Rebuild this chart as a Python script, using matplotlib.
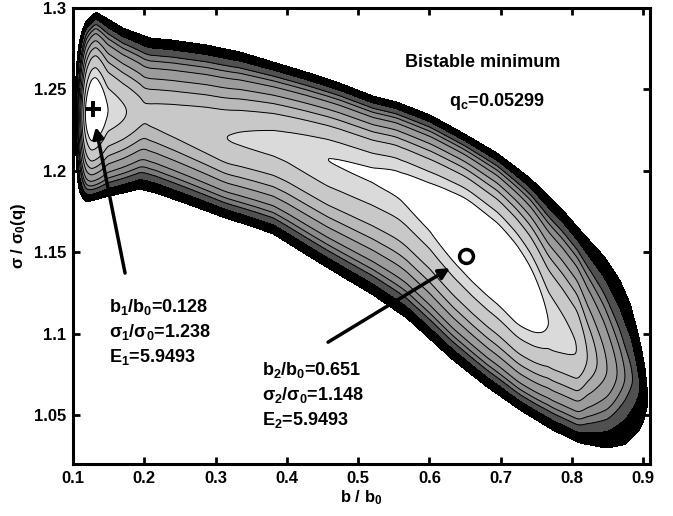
import numpy as np
import matplotlib.pyplot as plt

plt.rcParams['font.family'] = ['Liberation Sans', 'DejaVu Sans']
plt.rcParams['font.weight'] = 'bold'
plt.rcParams['mathtext.fontset'] = 'custom'
plt.rcParams['mathtext.rm'] = 'Liberation Sans:bold'
plt.rcParams['mathtext.bf'] = 'Liberation Sans:bold'
plt.rcParams['mathtext.it'] = 'Liberation Sans'

# outer edge of the energy valley (black band)
upper_b = [0.1025, 0.104, 0.107, 0.112, 0.118, 0.132, 0.146, 0.170, 0.208, 0.240, 0.287,
           0.334, 0.381, 0.427, 0.474, 0.521, 0.554, 0.601, 0.647, 0.695, 0.741, 0.787,
           0.815, 0.845, 0.867, 0.882, 0.895, 0.902, 0.905, 0.906]
upper_s = [1.235, 1.262, 1.275, 1.285, 1.292, 1.2975, 1.294, 1.2877, 1.2816, 1.2803, 1.2773,
           1.2730, 1.2668, 1.2607, 1.2539, 1.2459, 1.2423, 1.2343, 1.2232, 1.2109, 1.1956, 1.1759,
           1.1618, 1.1475, 1.1329, 1.118, 1.096, 1.080, 1.0715, 1.0574]
lower_b = [0.1025, 0.104, 0.107, 0.112, 0.118, 0.146, 0.194, 0.216, 0.264, 0.310, 0.357,
           0.381, 0.428, 0.474, 0.521, 0.568, 0.633, 0.681, 0.727, 0.773, 0.811, 0.849,
           0.875, 0.895, 0.902, 0.906]
lower_s = [1.235, 1.205, 1.190, 1.184, 1.1808, 1.1839, 1.1888, 1.1864, 1.1790, 1.1716, 1.1649,
           1.1612, 1.1483, 1.1360, 1.1237, 1.1096, 1.0838, 1.0672, 1.0531, 1.0408, 1.0328, 1.0297,
           1.032, 1.0408, 1.0482, 1.0574]

# contour positions across the band (fraction of half-width, read at the left minimum)
edge_u = [0.337, 0.439, 0.561, 0.643, 0.714, 0.786, 0.837, 0.878, 0.930]

# height of the valley floor along b, same units as edge_u
floor_b = [0.1035, 0.117, 0.128, 0.148, 0.175, 0.200, 0.250, 0.316, 0.400, 0.457, 0.520,
           0.560, 0.600, 0.630, 0.660, 0.690, 0.720, 0.745, 0.766, 0.807, 0.821, 0.835,
           0.849, 0.863, 0.874, 0.885, 0.895, 0.906]
floor_u = [1.0, 0.337, 0.0, 0.337, 0.439, 0.54, 0.50, 0.439, 0.39, 0.337, 0.325,
           0.30, 0.24, 0.15, 0.05, 0.0, 0.06, 0.20, 0.337, 0.439, 0.561, 0.643,
           0.714, 0.786, 0.837, 0.878, 0.930, 1.0]

# vertical offset of the valley bottom inside the band (-1 lower edge, +1 upper edge)
shift_b = [0.100, 0.128, 0.200, 0.316, 0.400, 0.457, 0.550, 0.650, 0.700, 0.766, 0.810, 0.860, 0.906]
shift_t = [0.0, -0.04, 0.0, -0.05, 0.10, 0.15, 0.25, 0.20, 0.12, -0.10, -0.15, -0.15, 0.0]

shades = ['#ffffff', '#dadada', '#c8c8c8', '#b9b9b9', '#aaaaaa', '#9b9b9b',
          '#8c8c8c', '#7b7b7b', '#505050', '#000000']

minima_b = [0.128, 0.651]
minima_s = [1.238, 1.148]
labels1 = ['b$_1$/b$_0$=0.128', r'$\sigma_1/\sigma_0$=1.238', 'E$_1$=5.9493']
labels2 = ['b$_2$/b$_0$=0.651', r'$\sigma_2/\sigma_0$=1.148', 'E$_2$=5.9493']


def profile(u, e=0.2):
    # quadratic at the bottom, straight walls further out
    u = np.asarray(u, dtype=float)
    return (np.sqrt(u ** 2 + e ** 2) - e) / (np.sqrt(1 + e ** 2) - e)


def smooth(y, n):
    pad = np.pad(y, n, mode='edge')
    return np.convolve(pad, np.ones(n) / n, mode='same')[n:-n]


bgrid = np.linspace(0.1, 0.91, 1400)
sgrid = np.linspace(1.02, 1.30, 1000)
up = np.interp(bgrid, upper_b, upper_s, left=np.nan, right=np.nan)
lo = np.interp(bgrid, lower_b, lower_s, left=np.nan, right=np.nan)
ok = np.isfinite(up)
up[ok] = smooth(up[ok], 9)
lo[ok] = smooth(lo[ok], 9)
g = profile(smooth(np.interp(bgrid, floor_b, floor_u), 11))
m = smooth(np.interp(bgrid, shift_b, shift_t), 31)
c = (up + lo) / 2
h = (up - lo) / 2

B, S = np.meshgrid(bgrid, sgrid)
with np.errstate(invalid='ignore', divide='ignore'):
    t = (S - c) / h
    u = np.where(t >= m, (t - m) / (1 - m), (m - t) / (1 + m))
    phi = g + (1 - g) * profile(u)
phi = np.where(np.isfinite(phi) & (h > 0), phi, 5.0)

levels = [-1.0] + list(profile(edge_u)) + [1.0]

fig = plt.figure(figsize=(6.73, 5.16), dpi=100)
ax = fig.add_axes([0.1085, 0.1008, 0.8573, 0.8837])

ax.contourf(B, S, phi, levels=levels, colors=shades)
ax.contour(B, S, phi, levels=levels[1:9], colors='k', linewidths=0.7)

ax.plot(minima_b[0], minima_s[0], marker='+', color='k', ms=12, mew=2.8)
ax.plot(minima_b[1], minima_s[1], marker='o', mfc='none', mec='k', ms=10, mew=2.5)

arrow = dict(arrowstyle='-|>', lw=2.5, color='k', mutation_scale=16, shrinkA=0, shrinkB=0)
ax.annotate('', xy=(0.132, 1.2269), xytext=(0.173, 1.1372), arrowprops=arrow)
ax.annotate('', xy=(0.6287, 1.1403), xytext=(0.4577, 1.0948), arrowprops=arrow)

for i, txt in enumerate(labels1):
    ax.text(0.150, 1.1163 - 0.0153 * i, txt, fontsize=13, fontweight='bold', va='center')
for i, txt in enumerate(labels2):
    ax.text(0.365, 1.0776 - 0.0153 * i, txt, fontsize=13, fontweight='bold', va='center')

ax.text(0.674, 1.2668, 'Bistable minimum', fontsize=13, fontweight='bold', ha='center', va='center')
ax.text(0.694, 1.2423, r'q$_\mathbf{c}$=0.05299', fontsize=13, fontweight='bold', ha='center', va='center')

ax.set_xlim(0.1, 0.9093)
ax.set_ylim(1.02, 1.30)
ax.set_xticks([0.1, 0.2, 0.3, 0.4, 0.5, 0.6, 0.7, 0.8, 0.9])
ax.set_xticklabels(['0.1', '0.2', '0.3', '0.4', '0.5', '0.6', '0.7', '0.8', '0.9'])
ax.set_yticks([1.05, 1.1, 1.15, 1.2, 1.25, 1.3])
ax.set_yticklabels(['1.05', '1.1', '1.15', '1.2', '1.25', '1.3'])
ax.tick_params(direction='in', top=True, right=True, length=5, width=2, labelsize=12, pad=5)
for sp in ax.spines.values():
    sp.set_linewidth(2.2)

ax.set_xlabel('b / b$_0$', fontsize=12, fontweight='bold', labelpad=2)
ax.set_ylabel(r'$\sigma$ / $\sigma_0$(q)', fontsize=12, fontweight='bold', labelpad=4)

fig.savefig('out.png', dpi=100)
